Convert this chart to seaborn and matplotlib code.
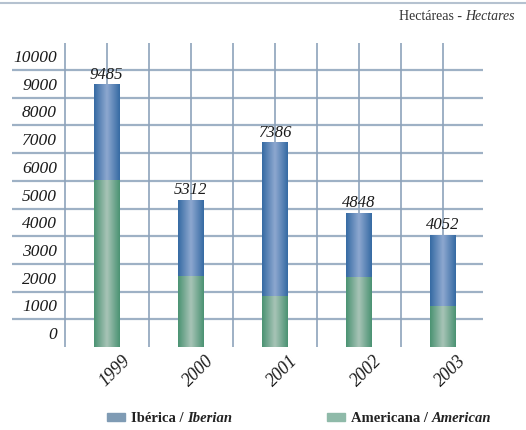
import numpy as np
import pandas as pd
import matplotlib
matplotlib.use("Agg")
import matplotlib.pyplot as plt
import seaborn as sns
from matplotlib.colors import LinearSegmentedColormap
from matplotlib.lines import Line2D
from matplotlib.patches import Rectangle
import matplotlib.transforms as mtrans

# ---- data ----
years = ["1999", "2000", "2001", "2002", "2003"]
americana = [6030, 2570, 1830, 2530, 1480]
iberica = [3455, 2742, 5556, 2318, 2572]
totals = [9485, 5312, 7386, 4848, 4052]
yticks = [0, 1000, 2000, 3000, 4000, 5000, 6000, 7000, 8000, 9000, 10000]

sns.set_theme(style="white")
plt.rcParams['font.family'] = ['Liberation Serif', 'DejaVu Serif']

W, H = 526, 430
fig = plt.figure(figsize=(W / 100, H / 100), dpi=100)
ax = fig.add_axes([12 / W, (H - 347) / H, (483 - 12) / W, (347 - 43) / H])

df = pd.DataFrame({"year": years, "americana": americana, "iberica": iberica, "total": totals})

sns.barplot(data=df, x="year", y="total", color="#4f7fb3", width=0.3, ax=ax,
            saturation=1, linewidth=0, zorder=3)
sns.barplot(data=df, x="year", y="americana", color="#6aa386", width=0.3, ax=ax,
            saturation=1, linewidth=0, zorder=4)

# gradient overlays clipped to each bar
blue_cmap = LinearSegmentedColormap.from_list("b", ["#356aa3", "#8ea8d0", "#356aa3"])
green_cmap = LinearSegmentedColormap.from_list("g", ["#4a9272", "#a8c4b7", "#4a9272"])
grad = np.linspace(0, 1, 200).reshape(1, -1)
n = len(years)
for i, p in enumerate(ax.patches):
    cmap = blue_cmap if i < n else green_cmap
    x0, y0 = p.get_x(), p.get_y()
    w, h = p.get_width(), p.get_height()
    im = ax.imshow(grad, cmap=cmap, aspect="auto", extent=[x0, x0 + w, y0, y0 + h],
                   zorder=p.get_zorder() + 0.5, interpolation="bicubic")
    im.set_clip_path(p)
ax.set_xlim(-1.125, 4.48)
ax.set_ylim(0, 10975)

# grid
gcol = "#9eb1c5"
for v in yticks[1:]:
    ax.axhline(v, color=gcol, lw=1.6, zorder=1)
for xv in np.arange(-0.5, 4.01, 0.5):
    ax.axvline(xv, color="#8ea3bb", lw=1.2, zorder=1)

for s in ax.spines.values():
    s.set_visible(False)
ax.set_xticks([])
ax.set_yticks([])
ax.set_xlabel("")
ax.set_ylabel("")

# y labels (offset above the gridlines)
lab_tr = mtrans.offset_copy(mtrans.blended_transform_factory(fig.transFigure, ax.transData),
                            fig=fig, x=0, y=12, units="dots")
for v in yticks:
    fig.text(57 / W, v, f"{v}", transform=lab_tr, ha="right", va="center",
             fontsize=12.5, style="italic", color="#1a1a1a")

# value labels
for i, t in enumerate(totals):
    ax.annotate(f"{t}", (i, t), xytext=(0, 1), textcoords="offset points",
                ha="center", va="bottom", fontsize=12, style="italic",
                color="#1a1a1a")

# year labels
for i, y in enumerate(years):
    ax.annotate(y, (i, 0), xytext=(15, -5), textcoords="offset pixels",
                ha="right", va="top", rotation=45, rotation_mode="anchor",
                fontsize=13, style="italic", color="#1a1a1a")

# top line
fig.add_artist(Line2D([0, 1], [1 - 3 / H, 1 - 3 / H], transform=fig.transFigure,
                      color="#b5c2d0", lw=1.5))

fig.canvas.draw()
r = fig.canvas.get_renderer()

# title (mixed style)
t2 = fig.text(515 / W, 1 - 17 / H, "Hectares", ha="right", va="center",
              fontsize=10, style="italic", color="#333333")
fig.canvas.draw()
bb = t2.get_window_extent(r)
fig.text(bb.x0 / W, 1 - 17 / H, "Hectáreas - ", ha="right", va="center",
         fontsize=10, color="#333333")

# legend
def legend_item(px, pcolor, t_reg, t_it):
    fig.add_artist(Rectangle((px / W, 1 - 421 / H), 18 / W, 8 / H,
                             transform=fig.transFigure, color=pcolor))
    a = fig.text((px + 24) / W, 1 - 418 / H, t_reg, ha="left", va="center",
                 fontsize=10.5, fontweight="bold", color="#222222")
    fig.canvas.draw()
    b = a.get_window_extent(r)
    fig.text(b.x1 / W, 1 - 418 / H, t_it, ha="left", va="center",
             fontsize=10.5, fontweight="bold", style="italic", color="#222222")

legend_item(107, "#7f9bb4", "Ibérica / ", "Iberian")
legend_item(327, "#8fbaa9", "Americana / ", "American")

fig.savefig("out.png", dpi=100)
